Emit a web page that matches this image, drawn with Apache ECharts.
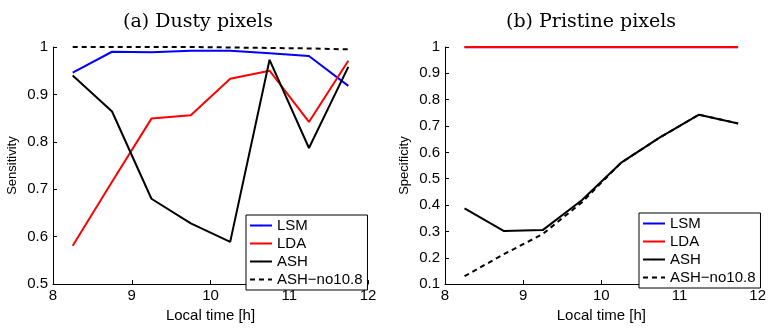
<!DOCTYPE html>
<html>
<head>
<meta charset="utf-8">
<script src="https://cdn.jsdelivr.net/npm/echarts@6/dist/echarts.min.js"></script>
<style>
  html, body { margin: 0; padding: 0; background: #fff; }
  #chart { width: 769px; height: 328px; }
</style>
</head>
<body>
<div id="chart"></div>
<script>
// local time of each sample [h]
const hours = [8.25, 8.75, 9.25, 9.75, 10.25, 10.75, 11.25, 11.75];

// (a) dusty pixels - sensitivity
const dustyLSM = [0.946, 0.990, 0.989, 0.992, 0.992, 0.987, 0.981, 0.918];
const dustyLDA = [0.581, 0.716, 0.849, 0.856, 0.933, 0.950, 0.842, 0.971];
const dustyASH = [0.940, 0.864, 0.680, 0.628, 0.589, 0.973, 0.787, 0.958];
const dustyNo108 = [1.000, 1.000, 1.000, 1.000, 0.999, 0.998, 0.997, 0.995];

// (b) pristine pixels - specificity
const pristLSM = [0.999, 0.999, 0.999, 0.999, 0.999, 0.999, 0.999, 0.999];
const pristLDA = [1.000, 1.000, 1.000, 1.000, 1.000, 1.000, 1.000, 1.000];
const pristASH = [0.387, 0.302, 0.305, 0.418, 0.560, 0.657, 0.743, 0.710];
const pristNo108 = [0.130, 0.213, 0.290, 0.410, 0.560, 0.657, 0.743, 0.710];

const names = ['LSM', 'LDA', 'ASH', 'ASH\u2212no10.8'];
const colors = ['#0000ff', '#ff0000', '#000000', '#000000'];

const pairs = arr => hours.map((h, i) => [h, arr[i]]);

function makeSeries(idx, data) {
  return data.map((arr, k) => ({
    name: names[k],
    type: 'line',
    xAxisIndex: idx,
    yAxisIndex: idx,
    data: pairs(arr),
    symbol: 'none',
    lineStyle: { color: colors[k], width: 2, type: k === 3 ? [5, 4] : 'solid' },
    itemStyle: { color: colors[k] },
    z: k === 3 ? 1 : 2,
    silent: true
  }));
}

const sans = 'Liberation Sans, Arial, sans-serif';
const tickFont = { color: '#000', fontSize: 15, fontFamily: sans };

function xAxis(idx) {
  return {
    gridIndex: idx,
    type: 'value',
    min: 8, max: 12, interval: 1,
    name: 'Local time [h]',
    nameLocation: 'middle',
    nameGap: 23,
    nameTextStyle: { color: '#000', fontSize: 15, fontFamily: sans },
    axisLine: { lineStyle: { color: '#000', width: 1 } },
    axisTick: { inside: true, length: 4, lineStyle: { color: '#000' } },
    axisLabel: Object.assign({ margin: 4 }, tickFont),
    splitLine: { show: false }
  };
}

function yAxis(idx, name, min, interval) {
  return {
    gridIndex: idx,
    type: 'value',
    min: min, max: 1, interval: interval,
    name: name,
    nameLocation: 'middle',
    nameGap: 34,
    nameTextStyle: { color: '#000', fontSize: 13, fontFamily: sans },
    axisLine: { show: true, lineStyle: { color: '#000', width: 1 } },
    axisTick: { show: true, inside: true, length: 4, lineStyle: { color: '#000' } },
    axisLabel: Object.assign({ margin: 5, formatter: v => String(+v.toFixed(1)) }, tickFont),
    splitLine: { show: false }
  };
}

function legend(left, top) {
  return {
    data: names,
    orient: 'vertical',
    left: left, top: top,
    itemWidth: 22, itemHeight: 2,
    itemGap: 3,
    padding: [3, 5, 3, 3],
    backgroundColor: '#fff',
    borderColor: '#000',
    borderWidth: 1,
    borderRadius: 0,
    selectedMode: false,
    textStyle: { color: '#000', fontSize: 15, fontFamily: sans }
  };
}

const serifTitle = { fontFamily: 'DejaVu Serif, Liberation Serif, serif', fontWeight: 'normal', fontSize: 19, color: '#000' };

const chart = echarts.init(document.getElementById('chart'));
chart.setOption({
  animation: false,
  title: [
    { text: '(a) Dusty pixels', left: 193, top: 8, textAlign: 'center', textStyle: serifTitle },
    { text: '(b) Pristine pixels', left: 586, top: 8, textAlign: 'center', textStyle: serifTitle }
  ],
  grid: [
    { left: 53, top: 47, width: 315, height: 248 },
    { left: 445, top: 47, width: 313, height: 246 }
  ],
  xAxis: [xAxis(0), xAxis(1)],
  yAxis: [yAxis(0, 'Sensitivity', 0.5, 0.1), yAxis(1, 'Specificity', 0.1, 0.1)],
  legend: [legend(246, 215), legend(639, 213)],
  series: makeSeries(0, [dustyLSM, dustyLDA, dustyASH, dustyNo108])
    .concat(makeSeries(1, [pristLSM, pristLDA, pristASH, pristNo108]))
});
</script>
</body>
</html>
